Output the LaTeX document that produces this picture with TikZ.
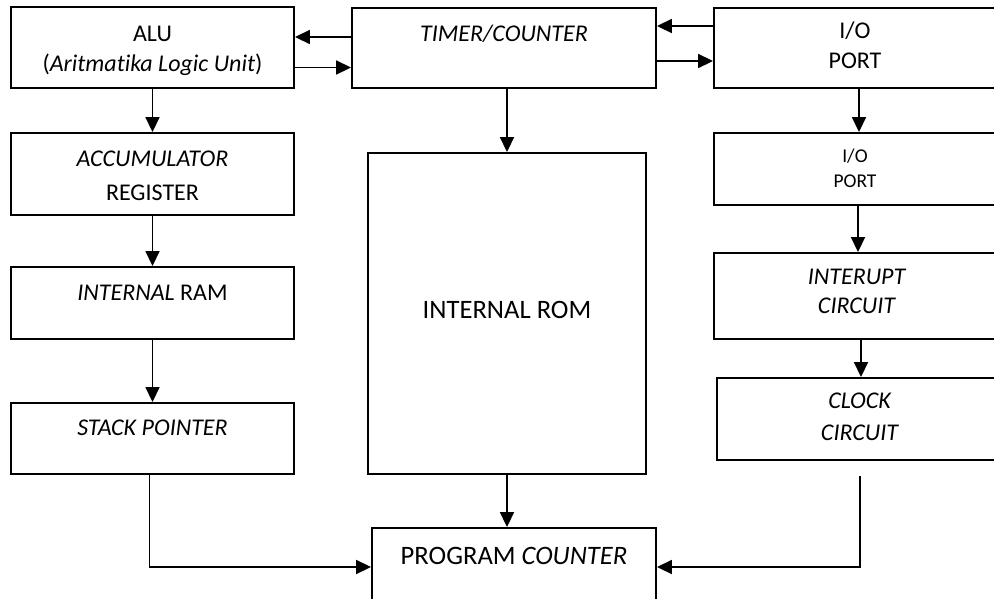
\documentclass[tikz,border=0pt]{standalone}
\usepackage{fontspec}
\setmainfont[Ligatures=NoCommon]{Carlito}
\usepackage{tikz}
\usetikzlibrary{arrows.meta,positioning}

\begin{document}
\begin{tikzpicture}[
		x=1pt, y=-1pt,
		>={Triangle[length=15pt, width=14pt]},
		line width=1.8pt,
		blk/.style = {draw, rectangle, line width=1.9pt, inner sep=0pt},
		txt/.style = {align=center, inner sep=0pt, font=\fontsize{24}{30}\selectfont},
		big/.style = {align=center, inner sep=0pt, font=\fontsize{26.6}{30}\selectfont}
		]
		\useasboundingbox (0,0) rectangle (994,598);
		
		% Left column ---------------------------------------------------
		\node[blk, minimum width=283pt, minimum height=81pt] (alu)   at (152.5,47.5) {};
		\node[blk, minimum width=283pt, minimum height=82pt] (acc)   at (152.5,174) {};
		\node[blk, minimum width=283pt, minimum height=72pt] (ram)   at (152.5,303) {};
		\node[blk, minimum width=283pt, minimum height=71pt] (stack) at (152.5,438.5) {};
		
		% Middle column -------------------------------------------------
		\node[blk, minimum width=304pt, minimum height=80pt]  (timer) at (504,48) {};
		\node[blk, minimum width=278pt, minimum height=321pt] (rom)   at (507,313.5) {};
		\node[blk, minimum width=284pt, minimum height=78pt]  (pc)    at (514,567) {};
		
		% Right column --------------------------------------------------
		\node[blk, minimum width=282pt, minimum height=80pt] (io)    at (855,48) {};
		\node[blk, minimum width=282pt, minimum height=72pt] (iob)   at (855,169) {};
		\node[blk, minimum width=286pt, minimum height=86pt] (intr)  at (857,296) {};
		\node[blk, minimum width=286pt, minimum height=82pt] (clk)   at (860,419) {};
		
		% Texts (base = last line) --------------------------------------
		\node[txt, anchor=base] (alut) at ([yshift=-65pt]alu.north) {ALU\\(\textit{Aritmatika Logic Unit})};
		\node[txt, anchor=base, font=\fontsize{24}{34}\selectfont] (acct) at ([yshift=-68pt]acc.north) {\textit{ACCUMULATOR}\\REGISTER};
		\node[txt, anchor=base] (ramt) at ([yshift=-34pt]ram.north) {\textit{INTERNAL} RAM};
		\node[txt, anchor=base] (stackt) at ([yshift=-33pt]stack.north) {\textit{STACK POINTER}};
		\node[txt, anchor=base] (timert) at ([yshift=-34pt]timer.north) {\textit{TIMER/COUNTER}};
		\node[big, anchor=base] (romt) at ([yshift=-166pt]rom.north) {INTERNAL ROM};
		\node[big, anchor=base] (pct) at ([yshift=-37pt]pc.north) {PROGRAM \textit{COUNTER}};
		\node[txt, anchor=base] (iot) at ([yshift=-61pt]io.north) {I/O\\PORT};
		\node[txt, anchor=base, font=\fontsize{19.5}{25}\selectfont] (iobt) at ([yshift=-55pt]iob.north) {I/O\\PORT};
		\node[txt, anchor=base, font=\fontsize{24}{29}\selectfont] (intrt) at ([yshift=-61pt]intr.north) {\textit{INTERUPT}\\\textit{CIRCUIT}};
		\node[txt, anchor=base, font=\fontsize{24}{32}\selectfont] (clkt) at ([yshift=-63pt]clk.north) {\textit{CLOCK}\\\textit{CIRCUIT}};
		
		% Arrows --------------------------------------------------------
		\draw[->] ([yshift=11pt]timer.west) -- ([yshift=11pt]timer.west -| alu.east);
		\draw[->] ([yshift=-20pt]alu.east) -- ([yshift=-20pt]alu.east -| timer.west);
		\draw[->] ([yshift=22pt]io.west) -- ([yshift=22pt]io.west -| timer.east);
		\draw[->] ([yshift=-13pt]timer.east) -- ([yshift=-13pt]timer.east -| io.west);
		\draw[->] (alu) -- (acc);
		\draw[->] (acc) -- (ram);
		\draw[->] (ram) -- (stack);
		\draw[->] (rom.north |- timer.south) -- (rom.north);
		\draw[->] (rom.south) -- (rom.south |- pc.north);
		\draw[->] ([xshift=4pt]io.south) -- ([xshift=4pt]iob.north);
		\draw[->] ([xshift=3pt]iob.south) -- ([xshift=3pt]iob.south |- intr.north);
		\draw[->] ([xshift=4pt]intr.south) -- ([xshift=4pt]intr.south |- clk.north);
		\draw[->] ([xshift=-3pt]stack.south) |- (pc.west);
		\draw[->] ([yshift=-15pt]clk.south) |- (pc.east);
	\end{tikzpicture}
\end{document}
